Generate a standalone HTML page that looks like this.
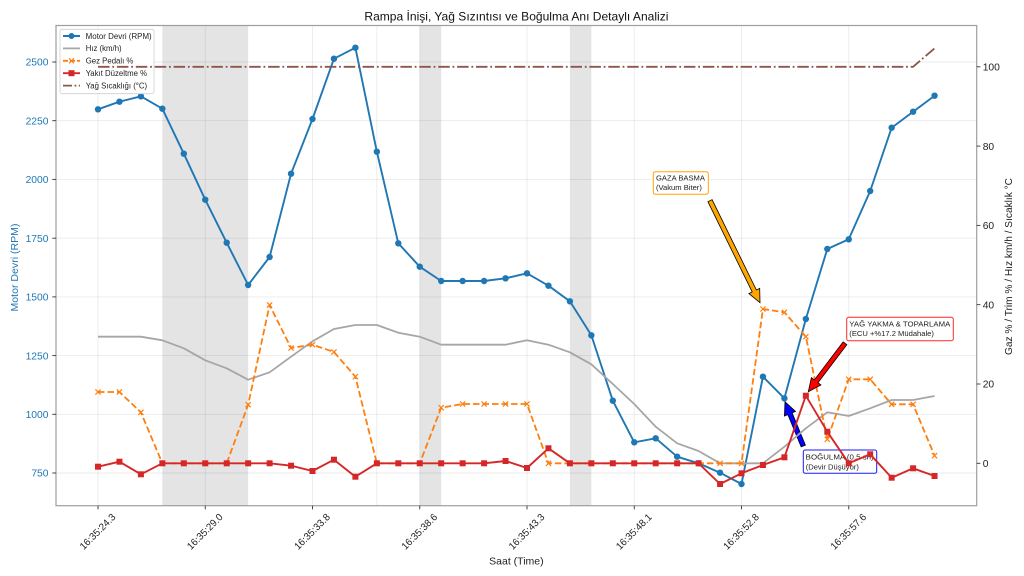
<!DOCTYPE html>
<html><head><meta charset="utf-8">
<style>
html,body{margin:0;padding:0;background:#fff}
svg{display:block}
text{font-family:"Liberation Sans","DejaVu Sans",sans-serif}
</style></head>
<body>
<svg width="1024" height="576" viewBox="0 0 1024 576" xmlns="http://www.w3.org/2000/svg">
<defs>
<marker id="mc" markerWidth="8" markerHeight="8" refX="4" refY="4" markerUnits="userSpaceOnUse"><circle cx="4" cy="4" r="3.2" fill="#1f77b4"/></marker>
<marker id="ms" markerWidth="8" markerHeight="8" refX="4" refY="4" markerUnits="userSpaceOnUse"><rect x="1" y="1" width="6" height="6" fill="#d62728"/></marker>
<marker id="mx" markerWidth="8" markerHeight="8" refX="4" refY="4" markerUnits="userSpaceOnUse"><path d="M1.4 1.4L6.6 6.6M6.6 1.4L1.4 6.6" stroke="#ff7f0e" stroke-width="1.2" fill="none"/></marker>
</defs>
<rect width="1024" height="576" fill="#fff"/>

<!-- shaded spans -->
<rect x="162.35" y="25.5" width="85.8" height="480.2" fill="#e4e4e4"/>
<rect x="419.75" y="25.5" width="21.45" height="480.2" fill="#e4e4e4"/>
<rect x="569.9" y="25.5" width="21.45" height="480.2" fill="#e4e4e4"/>

<!-- grid -->
<g stroke="#000" stroke-opacity="0.08" stroke-width="0.9">
<line x1="56" x2="976.7" y1="62" y2="62"/>
<line x1="56" x2="976.7" y1="120.7" y2="120.7"/>
<line x1="56" x2="976.7" y1="179.4" y2="179.4"/>
<line x1="56" x2="976.7" y1="238.2" y2="238.2"/>
<line x1="56" x2="976.7" y1="296.9" y2="296.9"/>
<line x1="56" x2="976.7" y1="355.6" y2="355.6"/>
<line x1="56" x2="976.7" y1="414.3" y2="414.3"/>
<line x1="56" x2="976.7" y1="473" y2="473"/>
<line x1="98" x2="98" y1="25.5" y2="505.7"/>
<line x1="205.25" x2="205.25" y1="25.5" y2="505.7"/>
<line x1="312.5" x2="312.5" y1="25.5" y2="505.7"/>
<line x1="376.85" x2="376.85" y1="25.5" y2="505.7"/>
<line x1="419.75" x2="419.75" y1="25.5" y2="505.7"/>
<line x1="527" x2="527" y1="25.5" y2="505.7"/>
<line x1="634.25" x2="634.25" y1="25.5" y2="505.7"/>
<line x1="741.5" x2="741.5" y1="25.5" y2="505.7"/>
<line x1="848.75" x2="848.75" y1="25.5" y2="505.7"/>
</g>

<!-- Motor Devri -->
<polyline fill="none" stroke="#1f77b4" stroke-width="1.9" stroke-linejoin="round" marker-start="url(#mc)" marker-mid="url(#mc)" marker-end="url(#mc)"
points="98.0,109.3 119.45,101.7 140.9,96.3 162.35,108.7 183.8,153.7 205.25,199.7 226.7,242.7 248.15,285 269.6,257 291.05,173.7 312.5,119 333.95,58.7 355.4,47.7 376.85,151.7 398.3,243.3 419.75,266.7 441.2,281 462.65,281 484.1,281 505.55,278.3 527.0,273.3 548.45,285.7 569.9,301.3 591.35,335.3 612.8,400.7 634.25,442.3 655.7,438.3 677.15,456.7 698.6,463.3 720.05,472.7 741.5,484 762.95,376.7 784.4,398.3 805.85,319 827.3,249 848.75,239.3 870.2,191 891.65,127.7 913.1,111.7 934.55,95.7"/>

<!-- BOĞULMA annotation -->
<rect x="803.3" y="450" width="73.4" height="23.3" rx="2" fill="#fff" stroke="#1a1aff" stroke-width="1"/>
<text x="805.7" y="459.6" font-size="7.6" fill="#222" textLength="68" lengthAdjust="spacingAndGlyphs">BOĞULMA (0.5 sn)</text>
<text x="805.7" y="469.6" font-size="7.6" fill="#222">(Devir Düşüyor)</text>
<polygon points="805.43,445.12 792.10,412.83 795.51,411.42 785,401.7 784.43,416.0 787.84,414.59 801.17,446.88" fill="#0000ff" stroke="#000" stroke-width="0.8" stroke-linejoin="miter"/>

<!-- legend -->
<rect x="60" y="29.3" width="94" height="64.4" rx="2" fill="#fff" fill-opacity="0.85" stroke="#cfcfcf" stroke-width="0.8"/>
<line x1="63" x2="80" y1="36" y2="36" stroke="#1f77b4" stroke-width="1.9"/>
<circle cx="71.5" cy="36" r="3" fill="#1f77b4"/>
<line x1="63" x2="80" y1="48.4" y2="48.4" stroke="#a6a6a6" stroke-width="1.8"/>
<line x1="63" x2="80" y1="60.8" y2="60.8" stroke="#ff7f0e" stroke-width="1.8" stroke-dasharray="5,2"/>
<path d="M69 58.3L74 63.3M74 58.3L69 63.3" stroke="#ff7f0e" stroke-width="1.1"/>
<line x1="63" x2="80" y1="73.2" y2="73.2" stroke="#d62728" stroke-width="1.9"/>
<rect x="68.5" y="70.2" width="6" height="6" fill="#d62728"/>
<line x1="63" x2="80" y1="85.6" y2="85.6" stroke="#8c564b" stroke-width="1.8" stroke-dasharray="9,2.5,1.8,2.5"/>
<g font-size="7.8" fill="#222">
<text x="85.7" y="38.8" textLength="66" lengthAdjust="spacingAndGlyphs">Motor Devri (RPM)</text>
<text x="85.7" y="51.2">Hız (km/h)</text>
<text x="85.7" y="63.6">Gez Pedalı %</text>
<text x="85.7" y="76">Yakıt Düzeltme %</text>
<text x="85.7" y="88.4">Yağ Sıcaklığı (°C)</text>
</g>

<!-- Hız -->
<polyline fill="none" stroke="#a6a6a6" stroke-width="1.8" stroke-linejoin="round"
points="98.0,336.7 119.45,336.7 140.9,336.7 162.35,340.3 183.8,348.3 205.25,360.3 226.7,368.3 248.15,379.7 269.6,372.3 291.05,356.7 312.5,341.3 333.95,329 355.4,325 376.85,325 398.3,332.7 419.75,336.7 441.2,344.7 462.65,344.7 484.1,344.7 505.55,344.7 527.0,340.3 548.45,344.7 569.9,352.3 591.35,364.3 612.8,384 634.25,404 655.7,426.7 677.15,443.3 698.6,451 720.05,463.3 741.5,463.3 762.95,463.3 784.4,446.7 805.85,428.3 827.3,412.3 848.75,416 870.2,408.3 891.65,400 913.1,400 934.55,396"/>

<!-- Gaz pedalı -->
<polyline fill="none" stroke="#ff7f0e" stroke-width="1.8" stroke-dasharray="6.5,3" stroke-linejoin="round" marker-start="url(#mx)" marker-mid="url(#mx)" marker-end="url(#mx)"
points="98.0,392 119.45,392 140.9,412.3 162.35,463.3 183.8,463.3 205.25,463.3 226.7,463.3 248.15,404.7 269.6,305 291.05,348 312.5,344.7 333.95,352 355.4,376.7 376.85,463.3 398.3,463.3 419.75,463.3 441.2,407.7 462.65,404 484.1,404 505.55,404 527.0,404 548.45,463.3 569.9,463.3 591.35,463.3 612.8,463.3 634.25,463.3 655.7,463.3 677.15,463.3 698.6,463.3 720.05,463.3 741.5,463.3 762.95,309 784.4,312.3 805.85,336.7 827.3,439.3 848.75,379.3 870.2,379.3 891.65,404.3 913.1,404.3 934.55,455.7"/>

<!-- Yakıt düzeltme -->
<polyline fill="none" stroke="#d62728" stroke-width="1.9" stroke-linejoin="round" marker-start="url(#ms)" marker-mid="url(#ms)" marker-end="url(#ms)"
points="98.0,466.7 119.45,461.7 140.9,474.3 162.35,463.3 183.8,463.3 205.25,463.3 226.7,463.3 248.15,463.3 269.6,463.3 291.05,465.7 312.5,471 333.95,459.7 355.4,476.7 376.85,463.3 398.3,463.3 419.75,463.3 441.2,463.3 462.65,463.3 484.1,463.3 505.55,461 527.0,468 548.45,448.3 569.9,463.3 591.35,463.3 612.8,463.3 634.25,463.3 655.7,463.3 677.15,463.3 698.6,463.3 720.05,484 741.5,473.3 762.95,465 784.4,457.3 805.85,395.7 827.3,431.7 848.75,463.3 870.2,454.3 891.65,477.7 913.1,468.3 934.55,476"/>

<!-- Yağ sıcaklığı -->
<polyline fill="none" stroke="#8c564b" stroke-width="1.8" stroke-dasharray="11.5,2.8,1.8,2.8" points="98,66.8 913.1,66.8 934.55,48.3"/>

<!-- GAZA BASMA annotation -->
<rect x="653.3" y="171.7" width="55" height="22.6" rx="2" fill="#fff" stroke="#ffa500" stroke-width="1"/>
<text x="656" y="180.6" font-size="7.6" fill="#222">GAZA BASMA</text>
<text x="656" y="190.2" font-size="7.6" fill="#222">(Vakum Biter)</text>
<polygon points="707.9,201.7 752.2,292.0 748.9,293.6 760,302.7 759.7,288.4 756.4,290.0 712.1,199.7" fill="#ffa500" stroke="#000" stroke-width="0.8"/>

<!-- YAĞ YAKMA annotation -->
<rect x="846.7" y="317.3" width="106.6" height="23.4" rx="2" fill="#fff" stroke="#ff2a2a" stroke-width="1"/>
<text x="849.3" y="326.3" font-size="7.6" fill="#222" textLength="101" lengthAdjust="spacingAndGlyphs">YAĞ YAKMA &amp; TOPARLAMA</text>
<text x="849.3" y="335.8" font-size="7.6" fill="#222">(ECU +%17.2 Müdahale)</text>
<polygon points="843.17,341.91 814.32,379.95 811.37,377.72 808.3,391.7 820.93,384.96 817.98,382.73 846.83,344.69" fill="#ff0000" stroke="#000" stroke-width="0.8"/>

<!-- spines -->
<rect x="56" y="25.5" width="920.7" height="480.2" fill="none" stroke="#9e9e9e" stroke-width="1.2"/>

<!-- ticks -->
<g stroke="#333" stroke-width="0.9">
<line x1="52.3" x2="56" y1="62" y2="62"/>
<line x1="52.3" x2="56" y1="120.7" y2="120.7"/>
<line x1="52.3" x2="56" y1="179.4" y2="179.4"/>
<line x1="52.3" x2="56" y1="238.2" y2="238.2"/>
<line x1="52.3" x2="56" y1="296.9" y2="296.9"/>
<line x1="52.3" x2="56" y1="355.6" y2="355.6"/>
<line x1="52.3" x2="56" y1="414.3" y2="414.3"/>
<line x1="52.3" x2="56" y1="473" y2="473"/>
<line x1="976.7" x2="980.4" y1="66.8" y2="66.8"/>
<line x1="976.7" x2="980.4" y1="146.1" y2="146.1"/>
<line x1="976.7" x2="980.4" y1="225.4" y2="225.4"/>
<line x1="976.7" x2="980.4" y1="304.7" y2="304.7"/>
<line x1="976.7" x2="980.4" y1="384" y2="384"/>
<line x1="976.7" x2="980.4" y1="463.3" y2="463.3"/>
<line x1="98" x2="98" y1="505.7" y2="509.4"/>
<line x1="205.25" x2="205.25" y1="505.7" y2="509.4"/>
<line x1="312.5" x2="312.5" y1="505.7" y2="509.4"/>
<line x1="419.75" x2="419.75" y1="505.7" y2="509.4"/>
<line x1="527" x2="527" y1="505.7" y2="509.4"/>
<line x1="634.25" x2="634.25" y1="505.7" y2="509.4"/>
<line x1="741.5" x2="741.5" y1="505.7" y2="509.4"/>
<line x1="848.75" x2="848.75" y1="505.7" y2="509.4"/>
</g>

<!-- left tick labels -->
<g font-size="10.3" fill="#1f77b4" text-anchor="end">
<text x="48.5" y="65.7">2500</text>
<text x="48.5" y="124.4">2250</text>
<text x="48.5" y="183.1">2000</text>
<text x="48.5" y="241.9">1750</text>
<text x="48.5" y="300.6">1500</text>
<text x="48.5" y="359.3">1250</text>
<text x="48.5" y="418">1000</text>
<text x="48.5" y="476.7">750</text>
</g>

<!-- right tick labels -->
<g font-size="10.3" fill="#222">
<text x="982.7" y="70.5">100</text>
<text x="982.7" y="149.8">80</text>
<text x="982.7" y="229.1">60</text>
<text x="982.7" y="308.4">40</text>
<text x="982.7" y="387.7">20</text>
<text x="982.7" y="467">0</text>
</g>

<!-- x tick labels -->
<g font-size="10" fill="#222" text-anchor="middle">
<text transform="translate(97.5,531.5) rotate(-45)" dy="0.35em" textLength="46" lengthAdjust="spacingAndGlyphs">16:35:24.3</text>
<text transform="translate(204.75,531.5) rotate(-45)" dy="0.35em" textLength="46" lengthAdjust="spacingAndGlyphs">16:35:29.0</text>
<text transform="translate(312,531.5) rotate(-45)" dy="0.35em" textLength="46" lengthAdjust="spacingAndGlyphs">16:35:33.8</text>
<text transform="translate(419.25,531.5) rotate(-45)" dy="0.35em" textLength="46" lengthAdjust="spacingAndGlyphs">16:35:38.6</text>
<text transform="translate(526.5,531.5) rotate(-45)" dy="0.35em" textLength="46" lengthAdjust="spacingAndGlyphs">16:35:43.3</text>
<text transform="translate(633.75,531.5) rotate(-45)" dy="0.35em" textLength="46" lengthAdjust="spacingAndGlyphs">16:35:48.1</text>
<text transform="translate(741,531.5) rotate(-45)" dy="0.35em" textLength="46" lengthAdjust="spacingAndGlyphs">16:35:52.8</text>
<text transform="translate(848.25,531.5) rotate(-45)" dy="0.35em" textLength="46" lengthAdjust="spacingAndGlyphs">16:35:57.6</text>
</g>

<!-- titles and labels -->
<text x="516.4" y="20.3" font-size="12" fill="#111" text-anchor="middle" textLength="304" lengthAdjust="spacingAndGlyphs">Rampa İnişi, Yağ Sızıntısı ve Boğulma Anı Detaylı Analizi</text>
<text x="516.4" y="564.5" font-size="10.5" fill="#222" text-anchor="middle">Saat (Time)</text>
<text transform="translate(14.3,267.5) rotate(-90)" dy="0.35em" font-size="10.5" fill="#1f77b4" text-anchor="middle" textLength="88" lengthAdjust="spacingAndGlyphs">Motor Devri (RPM)</text>
<text transform="translate(1008.5,266.5) rotate(-90)" dy="0.35em" font-size="10.5" fill="#222" text-anchor="middle" textLength="177" lengthAdjust="spacingAndGlyphs">Gaz % / Trim % / Hız km/h / Sıcaklık °C</text>
</svg>
</body></html>
